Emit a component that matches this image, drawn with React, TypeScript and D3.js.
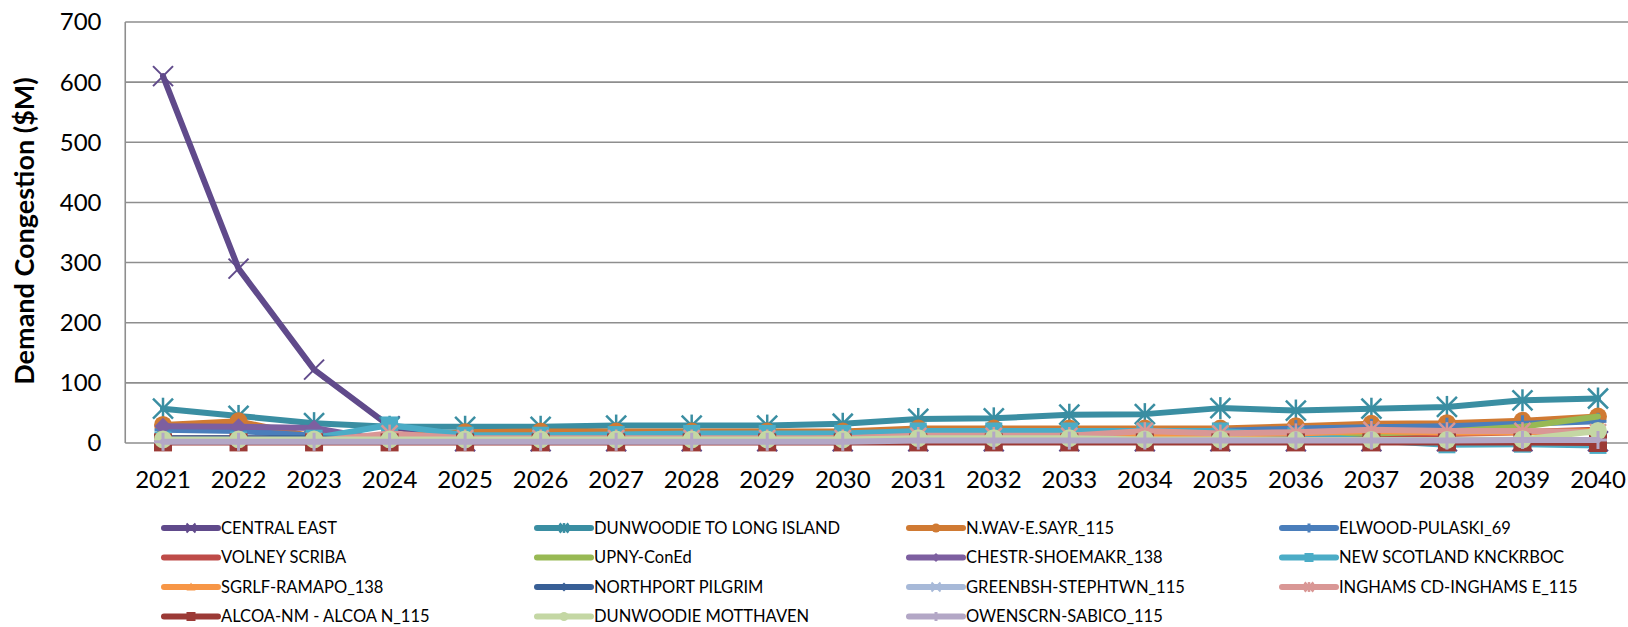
import React from "react";
import * as d3 from "d3";

const years = [2021, 2022, 2023, 2024, 2025, 2026, 2027, 2028, 2029, 2030, 2031, 2032, 2033, 2034, 2035, 2036, 2037, 2038, 2039, 2040];
const yTicks = [0, 100, 200, 300, 400, 500, 600, 700];

const centralEast = [610, 290, 122, 28, 3, 3, 3, 3, 3, 3, 3, 3, 3, 3, 3, 3, 3, 3, 3, 3];
const dunwoodieLI = [57, 45, 33, 27, 27, 27, 29, 29, 29, 32, 40, 41, 47, 48, 58, 54, 57, 60, 71, 74];
const nwavEsayr = [30, 36, 10, 10, 18, 19, 19, 19, 19, 19, 24, 24, 24, 24, 24, 28, 32, 33, 37, 44];
const elwoodPulaski = [22, 20, 12, 8, 10, 10, 10, 10, 12, 12, 15, 16, 16, 18, 20, 24, 26, 28, 32, 36];
const volneyScriba = [8, 8, 6, 8, 10, 10, 10, 10, 10, 10, 12, 12, 12, 12, 12, 13, 14, 15, 18, 22];
const upnyConEd = [5, 5, 5, 5, 6, 6, 6, 6, 6, 8, 10, 10, 10, 12, 12, 14, 16, 19, 27, 44];
const chestrShoemakr = [28, 27, 25, 3, 2, 2, 2, 2, 2, 2, 2, 2, 2, 2, 2, 2, 2, 2, 2, 2];
const newScotland = [5, 5, 8, 30, 13, 13, 14, 16, 16, 16, 20, 20, 20, 20, 20, 12, 4, -3, -2, -4];
const sgrlfRamapo = [3, 3, 3, 3, 3, 5, 5, 5, 5, 8, 10, 10, 12, 12, 14, 16, 20, 17, 18, 20];
const northportPilgrim = [8, 8, 8, 4, 3, 3, 3, 3, 3, 3, 3, 3, 3, 3, 3, 3, 3, 3, 3, 3];
const greenbshStephtwn = [2, 2, 2, 2, 2, 2, 2, 2, 2, 2, 2, 2, 2, 2, 2, 2, 2, 2, 2, 2];
const inghams = [2, 2, 3, 16, 8, 8, 8, 8, 8, 8, 12, 12, 12, 20, 16, 18, 22, 20, 20, 18];
const alcoa = [1, 1, 1, 1, 1, 1, 1, 1, 1, 1, 1, 1, 1, 1, 1, 1, 1, 1, 1, 0];
const dunwoodieMott = [6, 6, 6, 6, 6, 6, 6, 6, 6, 6, 8, 8, 8, 6, 6, 5, 5, 5, 6, 20];
const owenscrnSabico = [2, 2, 2, 2, 2, 2, 2, 2, 2, 2, 4, 4, 4, 4, 4, 4, 4, 4, 5, 5];

const seriesNames = [
  "CENTRAL EAST", "DUNWOODIE TO LONG ISLAND", "N.WAV-E.SAYR_115", "ELWOOD-PULASKI_69",
  "VOLNEY SCRIBA", "UPNY-ConEd", "CHESTR-SHOEMAKR_138", "NEW SCOTLAND KNCKRBOC",
  "SGRLF-RAMAPO_138", "NORTHPORT PILGRIM", "GREENBSH-STEPHTWN_115", "INGHAMS CD-INGHAMS E_115",
  "ALCOA-NM - ALCOA N_115", "DUNWOODIE MOTTHAVEN", "OWENSCRN-SABICO_115",
];
const seriesValues = [
  centralEast, dunwoodieLI, nwavEsayr, elwoodPulaski, volneyScriba, upnyConEd, chestrShoemakr,
  newScotland, sgrlfRamapo, northportPilgrim, greenbshStephtwn, inghams, alcoa, dunwoodieMott, owenscrnSabico,
];
const seriesColors = [
  "#604A8B", "#3A8EA2", "#D07A33", "#4A7EBB", "#BE4B48", "#98B954", "#7D5FA0",
  "#4BACC6", "#F79646", "#385F96", "#A7B9D8", "#D99795", "#9B3A36", "#C4D7A4", "#B3A7C6",
];
const seriesMarkers = [
  "x", "asterisk", "circle", "plus", "none", "none", "diamond",
  "square", "triangle", "diamond", "x", "asterisk", "square", "circle", "plus",
];
const seriesMarkerSize = [20, 20, 18, 17, 0, 0, 17, 17, 14, 10, 14, 16, 18, 18, 18];

const W = 1628;
const H = 627;
const plotLeft = 125.25;
const plotRight = 1635.75;
const yZero = 443;
const yTop = 22;
const FONT = "Lato, 'Open Sans', sans-serif";

function Marker({ type, x, y, s, color }: { type: string; x: number; y: number; s: number; color: string }) {
  const h = s / 2;
  const sw = 2;
  switch (type) {
    case "x":
      return (
        <g stroke={color} strokeWidth={sw}>
          <line x1={x - h} y1={y - h} x2={x + h} y2={y + h} />
          <line x1={x - h} y1={y + h} x2={x + h} y2={y - h} />
        </g>
      );
    case "asterisk":
      return (
        <g stroke={color} strokeWidth={sw + 0.5}>
          <line x1={x - h} y1={y - h} x2={x + h} y2={y + h} />
          <line x1={x - h} y1={y + h} x2={x + h} y2={y - h} />
          <line x1={x} y1={y - h * 1.1} x2={x} y2={y + h * 1.1} />
        </g>
      );
    case "plus":
      return (
        <g stroke={color} strokeWidth={sw + 1}>
          <line x1={x - h} y1={y} x2={x + h} y2={y} />
          <line x1={x} y1={y - h} x2={x} y2={y + h} />
        </g>
      );
    case "circle":
      return <circle cx={x} cy={y} r={h} fill={color} />;
    case "square":
      return <rect x={x - h} y={y - h} width={s} height={s} fill={color} />;
    case "diamond":
      return <path d={`M${x},${y - h}L${x + h},${y}L${x},${y + h}L${x - h},${y}Z`} fill={color} />;
    case "triangle":
      return <path d={`M${x},${y - h}L${x + h},${y + h * 0.8}L${x - h},${y + h * 0.8}Z`} fill={color} />;
    default:
      return null;
  }
}

export default function App() {
  const x = d3.scalePoint<number>().domain(years).range([plotLeft, plotRight]).padding(0.5);
  const y = d3.scaleLinear().domain([0, 700]).range([yZero, yTop]);
  const line = d3
    .line<number>()
    .x((_, i) => x(years[i]) as number)
    .y((d) => y(d));

  const legendCols = [164, 537, 909, 1282];
  const legendRows = [528, 557.5, 587, 616.5];
  const sampleLen = 54;

  return (
    <svg
      width={W}
      height={H}
      style={{ position: "absolute", left: 0, top: 0, display: "block", background: "#fff" }}
      fontFamily={FONT}
    >
      <rect x={0} y={0} width={W} height={H} fill="#fff" />
      {yTicks.map((t) => (
        <line key={t} x1={plotLeft} x2={plotRight} y1={y(t)} y2={y(t)} stroke="#8E8E8E" strokeWidth={1.6} />
      ))}
      <line x1={plotLeft} x2={plotLeft} y1={yTop} y2={yZero} stroke="#8E8E8E" strokeWidth={1.6} />
      {yTicks.map((t) => (
        <text key={t} x={101.5} y={y(t)} dy="0.35em" textAnchor="end" fontSize={24} fill="#000">
          {t}
        </text>
      ))}
      {years.map((yr) => (
        <text key={yr} x={x(yr)} y={480} dy="0.35em" textAnchor="middle" fontSize={24} fill="#000">
          {yr}
        </text>
      ))}
      <text
        transform={`translate(25,231) rotate(-90)`}
        textAnchor="middle"
        dy="0.35em"
        fontSize={27}
        fontWeight="bold"
        fill="#000"
      >
        Demand Congestion ($M)
      </text>
      {seriesValues.map((vals, si) => (
        <g key={si}>
          <path
            d={line(vals) || ""}
            fill="none"
            stroke={seriesColors[si]}
            strokeWidth={6}
            strokeLinejoin="round"
            strokeLinecap="round"
          />
          {vals.map((v, i) => (
            <Marker
              key={i}
              type={seriesMarkers[si]}
              x={x(years[i]) as number}
              y={y(v)}
              s={seriesMarkerSize[si]}
              color={seriesColors[si]}
            />
          ))}
        </g>
      ))}
      {seriesNames.map((name, i) => {
        const cx = legendCols[i % 4];
        const cy = legendRows[Math.floor(i / 4)];
        return (
          <g key={name}>
            <line x1={cx} x2={cx + sampleLen} y1={cy} y2={cy} stroke={seriesColors[i]} strokeWidth={6} strokeLinecap="round" />
            <Marker type={seriesMarkers[i]} x={cx + sampleLen / 2} y={cy} s={9} color={seriesColors[i]} />
            <text x={cx + sampleLen + 3} y={cy} dy="0.35em" fontSize={16.5} fill="#000">
              {name}
            </text>
          </g>
        );
      })}
    </svg>
  );
}
